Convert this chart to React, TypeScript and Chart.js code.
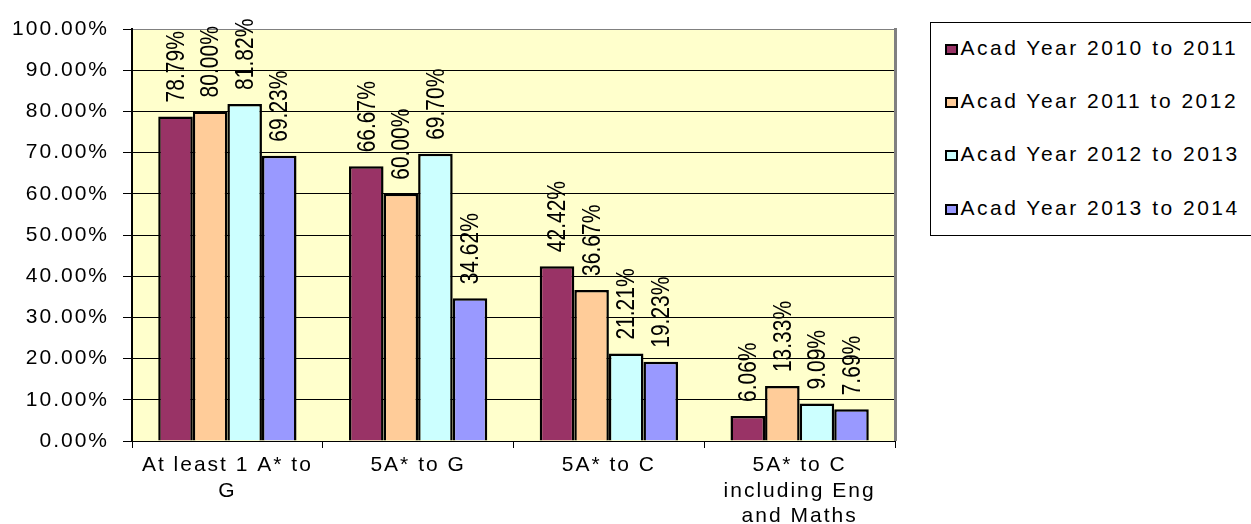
import React, { useEffect, useRef } from 'react';
import { Chart, registerables } from 'chart.js';

Chart.register(...registerables);

const FONT = '"Liberation Sans", Arial, sans-serif';

const categories: (string | string[])[] = [
  ['At least 1 A* to', 'G'],
  '5A* to G',
  '5A* to C',
  ['5A* to C', 'including Eng', 'and Maths'],
];
const seriesNames = [
  'Acad Year 2010 to 2011',
  'Acad Year 2011 to 2012',
  'Acad Year 2012 to 2013',
  'Acad Year 2013 to 2014',
];
const year2010to2011 = [78.79, 66.67, 42.42, 6.06];
const year2011to2012 = [80.0, 60.0, 36.67, 13.33];
const year2012to2013 = [81.82, 69.7, 21.21, 9.09];
const year2013to2014 = [69.23, 34.62, 19.23, 7.69];
const seriesColors = ['#993366', '#FFCC99', '#CCFFFF', '#9999FF'];
const yMin = 0;
const yMax = 100;
const yStep = 10;

const seriesValues = [year2010to2011, year2011to2012, year2012to2013, year2013to2014];

const plotPlugin = {
  id: 'plotDecor',
  beforeDraw(chart: any) {
    const { ctx, chartArea } = chart;
    const { left, top, right, bottom } = chartArea;
    ctx.save();
    ctx.fillStyle = '#FFFFCC';
    ctx.fillRect(left, top, right - left, bottom - top);
    ctx.restore();
    ctx.letterSpacing = '2px';
  },
  afterDraw(chart: any) {
    const { ctx, chartArea } = chart;
    const { top, right, bottom } = chartArea;
    ctx.save();
    ctx.fillStyle = '#808080';
    ctx.fillRect(right - 1, top - 1, 3, bottom - top + 1);
    ctx.restore();
  },
};

const dataLabelPlugin = {
  id: 'dataLabels',
  afterDatasetsDraw(chart: any) {
    const ctx = chart.ctx;
    ctx.save();
    ctx.letterSpacing = '0px';
    ctx.font = `21px ${FONT}`;
    ctx.fillStyle = '#000';
    ctx.textAlign = 'left';
    ctx.textBaseline = 'middle';
    chart.data.datasets.forEach((ds: any, di: number) => {
      const meta = chart.getDatasetMeta(di);
      meta.data.forEach((bar: any, i: number) => {
        const v = ds.data[i] as number;
        ctx.save();
        ctx.translate(bar.x + 1, bar.y - 14);
        ctx.rotate(-Math.PI / 2);
        ctx.scale(1, 1.25);
        ctx.fillText(v.toFixed(2) + '%', 0, 0);
        ctx.restore();
      });
    });
    ctx.restore();
  },
};

export default function App() {
  const canvasRef = useRef<HTMLCanvasElement | null>(null);

  useEffect(() => {
    const canvas = canvasRef.current;
    if (!canvas) return;
    const chart = new Chart(canvas, {
      type: 'bar',
      data: {
        labels: categories as any,
        datasets: seriesNames.map((name, i) => ({
          label: name,
          data: seriesValues[i],
          backgroundColor: seriesColors[i],
          borderColor: '#000',
          borderWidth: 2.5,
          borderSkipped: 'bottom' as const,
          categoryPercentage: 0.725,
          barPercentage: 1,
        })),
      },
      options: {
        responsive: false,
        animation: false,
        devicePixelRatio: 1,
        layout: { padding: { top: 29, right: 356, bottom: 0, left: 0 } },
        plugins: {
          legend: { display: false },
          tooltip: { enabled: false },
          title: { display: false },
        },
        scales: {
          x: {
            offset: true,
            grid: {
              offset: true,
              drawOnChartArea: false,
              drawTicks: true,
              tickLength: 7,
              color: '#000',
              lineWidth: 1,
            },
            border: { display: true, color: '#000', width: 1 },
            ticks: {
              font: { family: FONT, size: 21, lineHeight: 1.2 },
              color: '#000',
              padding: 5,
              maxRotation: 0,
              minRotation: 0,
              autoSkip: false,
            },
            afterFit: (s: any) => {
              s.height = 83;
            },
          },
          y: {
            min: yMin,
            max: yMax,
            ticks: {
              stepSize: yStep,
              callback: (v: any) => Number(v).toFixed(2) + '%',
              font: { family: FONT, size: 21 },
              color: '#000',
              padding: 14,
            },
            grid: {
              color: (c: any) => (c.tick && c.tick.value === yMax ? '#808080' : '#000'),
              tickColor: '#000',
              tickLength: 9,
              lineWidth: 1,
            },
            border: { display: true, color: '#000', width: 2 },
            afterFit: (s: any) => {
              s.width = 132;
            },
          },
        },
      } as any,
      plugins: [plotPlugin, dataLabelPlugin],
    });
    return () => chart.destroy();
  }, []);

  return (
    <div
      style={{
        position: 'absolute',
        left: 0,
        top: 0,
        width: 1251,
        height: 524,
        overflow: 'hidden',
        background: '#fff',
      }}
    >
      <canvas ref={canvasRef} width={1251} height={524} style={{ display: 'block' }} />
      <div
        style={{
          position: 'absolute',
          left: 930,
          top: 22,
          width: 330,
          height: 214,
          border: '1.5px solid #000',
          boxSizing: 'border-box',
          background: '#fff',
        }}
      >
        {seriesNames.map((name, i) => (
          <div
            key={name}
            style={{
              position: 'absolute',
              left: 13.5,
              top: 12.5 + i * 53.4,
              height: 24,
              lineHeight: '24px',
              fontSize: 21,
              fontFamily: FONT,
              letterSpacing: '2.5px',
              whiteSpace: 'nowrap',
              color: '#000',
            }}
          >
            <span
              style={{
                display: 'inline-block',
                width: 13,
                height: 11,
                border: '2px solid #000',
                boxSizing: 'border-box',
                background: seriesColors[i],
                marginRight: 3,
                verticalAlign: 'baseline',
              }}
            />
            {name}
          </div>
        ))}
      </div>
    </div>
  );
}
